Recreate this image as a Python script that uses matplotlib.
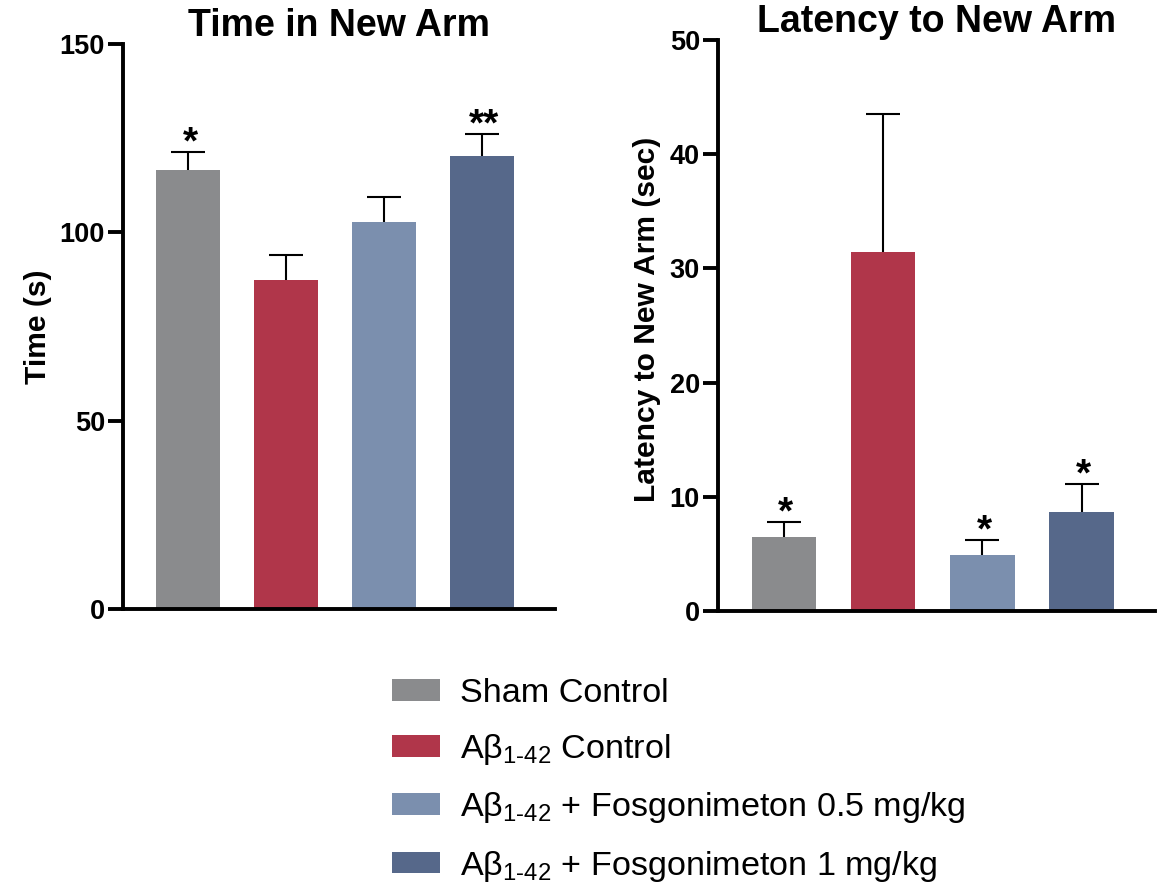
import matplotlib
matplotlib.use("Agg")
import matplotlib.pyplot as plt
from matplotlib.patches import Patch
import numpy as np

groups = ["Sham Control",
          "Aβ$_{\\text{1-42}}$ Control",
          "Aβ$_{\\text{1-42}}$ + Fosgonimeton 0.5 mg/kg",
          "Aβ$_{\\text{1-42}}$ + Fosgonimeton 1 mg/kg"]
colors = ["#8a8b8d", "#b0364a", "#7b8fae", "#56688a"]

time_mean = [116.5, 87.3, 102.7, 120.3]
time_err = [4.8, 6.7, 6.7, 5.8]
time_sig = ["*", "", "", "**"]

lat_mean = [6.5, 31.4, 4.9, 8.7]
lat_err = [1.3, 12.1, 1.3, 2.4]
lat_sig = ["*", "", "*", "*"]

plt.rcParams['font.family'] = ['Liberation Sans', 'DejaVu Sans']
plt.rcParams['mathtext.fontset'] = 'custom'
plt.rcParams['mathtext.rm'] = 'Liberation Sans'
plt.rcParams['mathtext.it'] = 'Liberation Sans:italic'
plt.rcParams['mathtext.bf'] = 'Liberation Sans:bold'
plt.rcParams['mathtext.default'] = 'regular'

fig = plt.figure(figsize=(11.59, 8.85), dpi=100)
ax1 = fig.add_axes([0.1061, 0.3119, 0.3727, 0.6384])
ax2 = fig.add_axes([0.6195, 0.3096, 0.3770, 0.6452])

def draw(ax, means, errs, sigs, ymax, step, title, ylabel, sig_off):
    x = np.arange(len(means))
    ax.errorbar(x, means, yerr=errs, fmt='none',
                ecolor='black', elinewidth=1.5, capsize=12, capthick=1.5, zorder=1)
    ax.bar(x, means, width=0.65, color=colors, zorder=2)
    for xi, m, e, s in zip(x, means, errs, sigs):
        if s:
            ax.text(xi + 0.02, m + e + sig_off, s, ha='center', va='bottom',
                    fontsize=28, fontweight='bold')
    ax.set_xlim(-0.665, 3.74)
    ax.set_ylim(0, ymax)
    ax.set_yticks(np.arange(0, ymax + 1e-9, step))
    ax.set_xticks([])
    for sp in ['top', 'right']:
        ax.spines[sp].set_visible(False)
    for sp in ['left', 'bottom']:
        ax.spines[sp].set_linewidth(2.8)
    ax.tick_params(axis='y', length=11, width=2.8, labelsize=19.5, pad=2)
    for lab in ax.get_yticklabels():
        lab.set_fontweight('bold')
    ax.set_title(title, fontsize=27, fontweight='bold', pad=4)
    ax.set_ylabel(ylabel, fontsize=21.6, fontweight='bold')

draw(ax1, time_mean, time_err, time_sig, 150, 50, "Time in New Arm", "Time (s)", -2.5)
draw(ax2, lat_mean, lat_err, lat_sig, 50, 10, "Latency to New Arm", "Latency to New Arm (sec)", -0.8)
ax1.yaxis.set_label_coords(-0.165, 0.5)
ax2.yaxis.set_label_coords(-0.13, 0.51)

handles = [Patch(facecolor=c, edgecolor='none') for c in colors]
fig.legend(handles, groups, loc='upper left', bbox_to_anchor=(0.338, 0.234),
           frameon=False, fontsize=24.6, handlelength=1.42, handleheight=0.6,
           handletextpad=0.58, labelspacing=0.68, borderaxespad=0, borderpad=0)

fig.savefig("out.png", dpi=100)
